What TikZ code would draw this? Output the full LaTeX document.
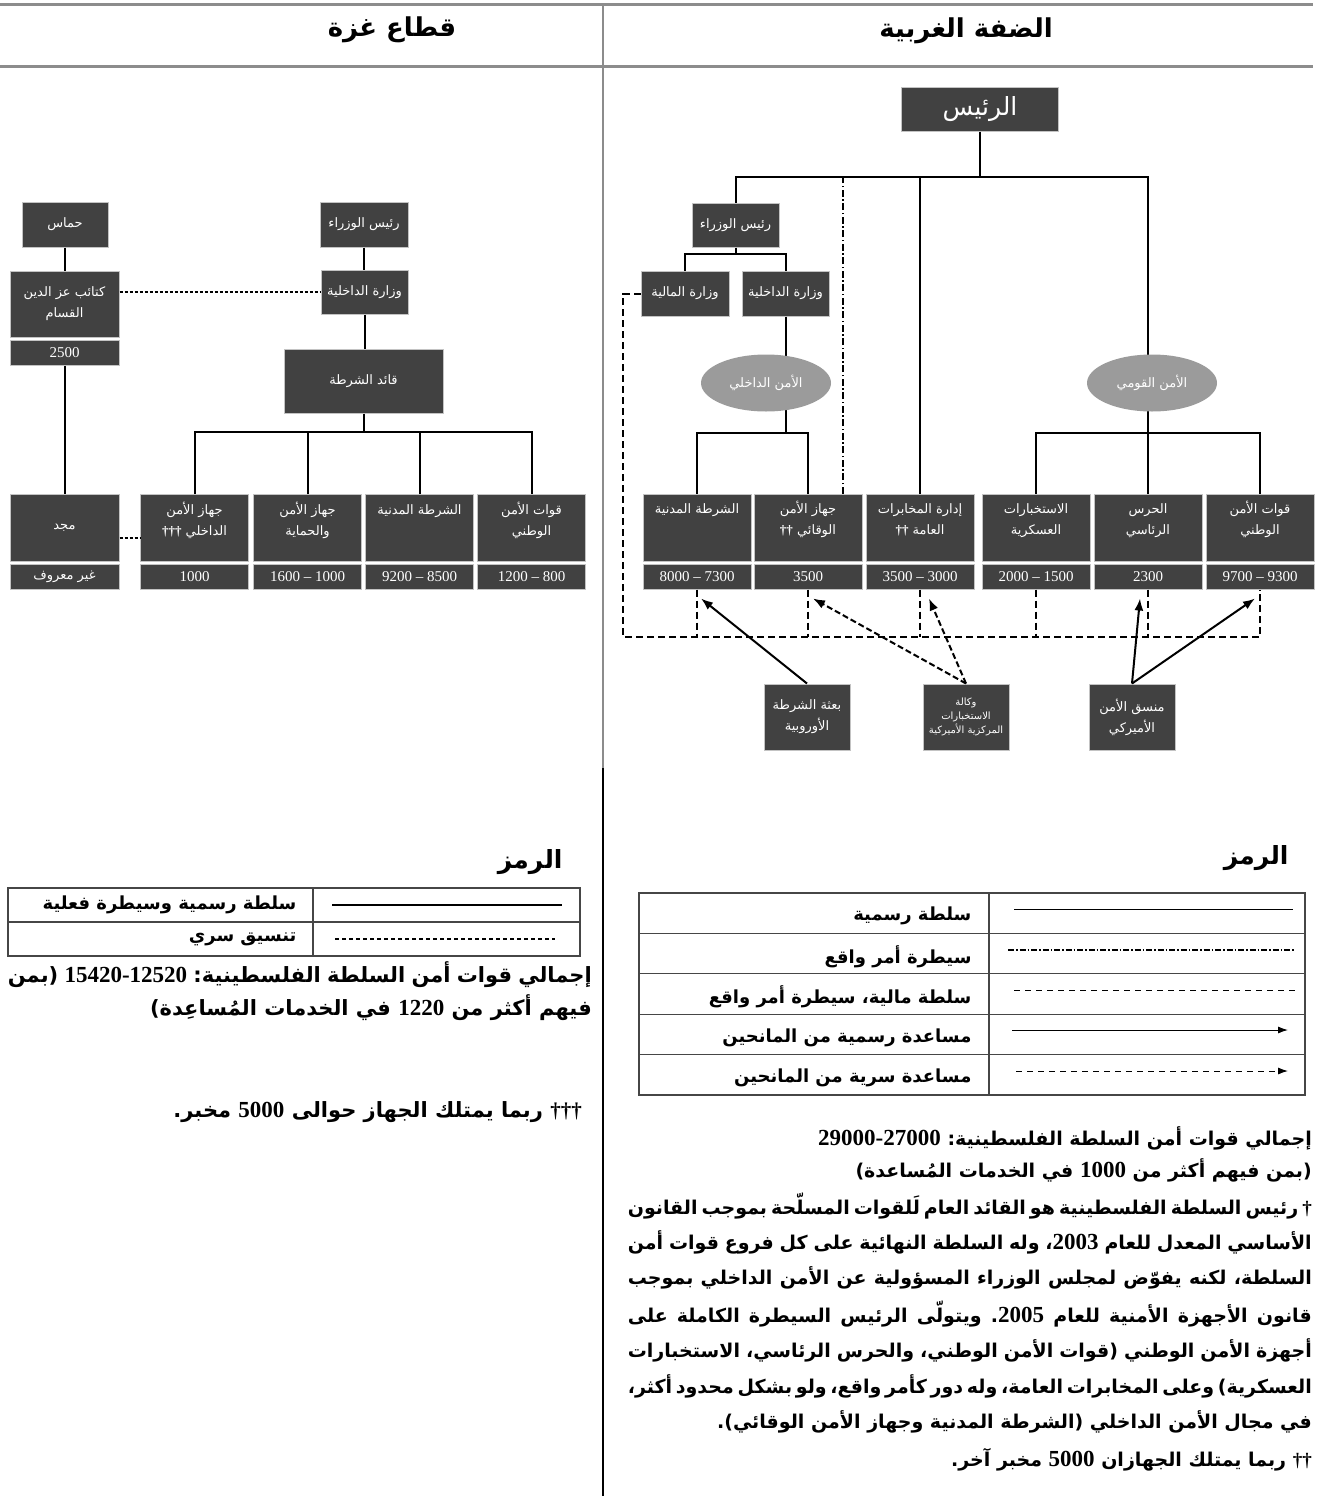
\documentclass[tikz,border=0pt]{standalone}
\usepackage{fontspec}
\setmainfont{Liberation Serif}
\newfontfamily\arabicfont[Script=Arabic]{DejaVu Sans}
\newfontfamily\latinfont{Liberation Serif}
\TeXXeTstate=1
\frenchspacing
\usetikzlibrary{positioning, shapes.geometric, arrows.meta}

\definecolor{boxgray}{RGB}{65,65,65}
\definecolor{edgegray}{RGB}{195,195,195}
\definecolor{ovalgray}{RGB}{155,155,155}
\definecolor{rulegray}{RGB}{140,140,140}
\definecolor{framegray}{RGB}{70,70,70}

\newcommand{\boxfont}{\arabicfont\fontsize{13}{21}\selectfont}
\newcommand{\smallboxfont}{\arabicfont\fontsize{10}{14}\selectfont}
\newcommand{\stripfont}{\latinfont\fontsize{15}{18}\selectfont}
\newcommand{\presfont}{\arabicfont\fontsize{25}{28}\selectfont}
\newcommand{\headfont}{\arabicfont\bfseries\fontsize{26}{30}\selectfont}
\newcommand{\keyfont}{\arabicfont\bfseries\fontsize{25}{28}\selectfont}
\newcommand{\legfont}{\arabicfont\bfseries\fontsize{18}{21}\selectfont}
\newcommand{\parafont}{\arabicfont\bfseries\fontsize{19}{22}\selectfont}
\newcommand{\gazaparafont}{\arabicfont\bfseries\fontsize{21}{24}\selectfont}

\newcommand{\arb}[1]{{\arabicfont #1}}
\newcommand{\nums}[1]{\beginL{\latinfont\bfseries\fontsize{23}{24}\selectfont #1}\endL}
\newcommand{\dg}[1]{{\latinfont\bfseries #1}}
\newcommand{\jline}[2]{\hbox to #1{\spaceskip=.32em plus 2em minus .16em\relax #2}}
\newcommand{\unittext}[1]{\parbox[c][58pt][t]{104pt}{\centering\rule{0pt}{15pt}#1}}

\tikzset{
  unit/.style={rectangle, draw=edgegray, fill=boxgray, text=white, line width=1pt,
    minimum width=108pt, minimum height=67pt, inner sep=0pt, font=\boxfont},
  strip/.style={rectangle, draw=edgegray, fill=boxgray, text=white, line width=1pt,
    minimum width=108pt, minimum height=25pt, inner sep=0pt, font=\stripfont},
  office/.style={rectangle, draw=edgegray, fill=boxgray, text=white, line width=1pt,
    minimum width=87pt, minimum height=44pt, inner sep=2pt, align=center, font=\boxfont},
  oval/.style={ellipse, fill=ovalgray, text=white, minimum width=130pt,
    minimum height=57pt, inner sep=0pt, font=\boxfont},
  authority/.style={line width=2pt},
  defacto/.style={line width=1.6pt, dash pattern=on 7pt off 2.5pt on 1.5pt off 2.5pt},
  finance/.style={line width=2pt, dash pattern=on 7pt off 4pt},
  covert/.style={line width=2.5pt, dash pattern=on 3pt off 2pt},
  aid/.style={line width=2pt, -{Latex[length=12pt,width=9pt]}},
  secretaid/.style={aid, dash pattern=on 6pt off 3pt},
  keyline/.style={line width=1pt},
  keytext/.style={font=\legfont, anchor=east},
  paraline/.style={font=\parafont, inner sep=0pt, anchor=east},
}

\begin{document}
\begin{tikzpicture}[x=1pt, y=-1pt]
  \useasboundingbox (0,0) rectangle (1321,1496);

  % header rules and titles
  \draw[rulegray, line width=3pt] (0,5) -- (1313,5);
  \draw[rulegray, line width=3pt] (0,67) -- (1313,67);
  \draw[rulegray, line width=1.5pt] (603,5) -- (603,768);
  \draw[line width=1.2pt] (603,768) -- (603,1496);
  \node[font=\headfont] (gazatitle) at (392,30) {\arb{\beginR قطاع غزة\endR}};
  \node[font=\headfont] (wbtitle) at (966,31) {\arb{\beginR الضفة الغربية\endR}};

  % West Bank offices
  \node[office, minimum width=157pt, font=\presfont] (pres) at (980,109) {\arb{\beginR الرئيس\endR}};
  \node[office] (pm) at (735.5,225) {\arb{\beginR رئيس الوزراء\endR}};
  \node[office, minimum width=88pt, minimum height=45pt] (mof) at (685,293.5) {\arb{\beginR وزارة المالية\endR}};
  \node[office, minimum height=45pt] (moi) at (785.5,293.5) {\arb{\beginR وزارة الداخلية\endR}};

  % West Bank services
  \node[unit] (civ) at (697,527.5) {\unittext{\arb{\beginR الشرطة المدنية\endR}}};
  \node[strip, below=2pt of civ] (civnum) {8000 – 7300};
  \node[unit] (pss) at (808,527.5) {\unittext{\arb{\beginR جهاز الأمن\endR}\\\arb{\beginR الوقائي \dg{††}\endR}}};
  \node[strip, below=2pt of pss] (pssnum) {3500};
  \node[unit] (gis) at (920,527.5) {\unittext{\arb{\beginR إدارة المخابرات\endR}\\\arb{\beginR العامة \dg{††}\endR}}};
  \node[strip, below=2pt of gis] (gisnum) {3500 – 3000};
  \node[unit] (mi) at (1036,527.5) {\unittext{\arb{\beginR الاستخبارات\endR}\\\arb{\beginR العسكرية\endR}}};
  \node[strip, below=2pt of mi] (minum) {2000 – 1500};
  \node[unit] (pg) at (1148,527.5) {\unittext{\arb{\beginR الحرس\endR}\\\arb{\beginR الرئاسي\endR}}};
  \node[strip, below=2pt of pg] (pgnum) {2300};
  \node[unit] (nsf) at (1260,527.5) {\unittext{\arb{\beginR قوات الأمن\endR}\\\arb{\beginR الوطني\endR}}};
  \node[strip, below=2pt of nsf] (nsfnum) {9700 – 9300};

  % West Bank donors
  \node[office, minimum width=86pt, minimum height=66pt] (eupol) at (807,717) {\arb{\beginR بعثة الشرطة\endR}\\\arb{\beginR الأوروبية\endR}};
  \node[office, minimum width=86pt, minimum height=66pt, font=\smallboxfont] (cia) at (966,717) {\arb{\beginR وكالة\endR}\\\arb{\beginR الاستخبارات\endR}\\\arb{\beginR المركزية الأميركية\endR}};
  \node[office, minimum width=86pt, minimum height=66pt] (ussc) at (1132,717) {\arb{\beginR منسق الأمن\endR}\\\arb{\beginR الأميركي\endR}};

  % West Bank lines
  \coordinate (wbbus) at (980,177);
  \draw[authority] (pres.south) -- (wbbus);
  \draw[authority] (pm.north) |- (wbbus) -| (pg.north);
  \draw[authority] (gis.north) -- (gis.north |- wbbus);
  \draw[defacto] ([xshift=35pt]pss.north) -- ([xshift=35pt]pss.north |- wbbus);
  \coordinate (pmbus) at (735.5,254);
  \draw[authority] (pm.south) -- (pmbus);
  \draw[authority] (mof.north) |- (pmbus) -| (moi.north);
  \coordinate (intbus) at (785.5,433);
  \draw[authority] (moi.south) -- (intbus);
  \draw[authority] (civ.north) |- (intbus) -| (pss.north);
  \coordinate (natbus) at (1148,433);
  \draw[authority] (mi.north) |- (natbus) -| (nsf.north);

  \coordinate (fincorner) at (623,637);
  \draw[finance] (mof.west) -| (fincorner) -- (fincorner -| nsfnum.south) -- (nsfnum.south);
  \foreach \n in {civnum,pssnum,gisnum,minum,pgnum}
    \draw[finance] (\n.south) -- (\n.south |- fincorner);

  \node[oval] (intsec) at (766,383) {\arb{\beginR الأمن الداخلي\endR}};
  \node[oval] (natsec) at (1152,383) {\arb{\beginR الأمن القومي\endR}};

  \draw[aid] (eupol.north) -- ([xshift=4pt,yshift=-9pt]civnum.south);
  \draw[secretaid] (cia.north) -- ([xshift=5pt,yshift=-9pt]pssnum.south);
  \draw[secretaid] (cia.north) -- ([xshift=9pt,yshift=-9pt]gisnum.south);
  \draw[aid] (ussc.north) -- ([xshift=-8pt,yshift=-9pt]pgnum.south);
  \draw[aid] (ussc.north) -- ([xshift=-5pt,yshift=-9pt]nsfnum.south);

  % Gaza offices
  \node[office, minimum width=86pt, minimum height=45pt] (hamas) at (65,224.5) {\arb{\beginR حماس\endR}};
  \node[office, minimum width=109pt, minimum height=66pt] (qassam) at (64.5,304) {\arb{\beginR كتائب عز الدين\endR}\\\arb{\beginR القسام\endR}};
  \node[strip, minimum width=109pt, below=2pt of qassam] (qassamnum) {2500};
  \node[office, minimum width=88pt, minimum height=45pt] (gpm) at (364,224.5) {\arb{\beginR رئيس الوزراء\endR}};
  \node[office] (gmoi) at (364.5,292) {\arb{\beginR وزارة الداخلية\endR}};
  \node[office, minimum width=159pt, minimum height=64pt] (chief) at (363.5,381) {\arb{\beginR قائد الشرطة\endR}};

  % Gaza services
  \node[unit, minimum width=109pt] (majd) at (64.5,528) {\arb{\beginR مجد\endR}};
  \node[strip, minimum width=109pt, below=2pt of majd, font=\boxfont] (majdnum) {\arb{\beginR غير معروف\endR}};
  \node[unit] (isa) at (194.5,528) {\unittext{\arb{\beginR جهاز الأمن\endR}\\\arb{\beginR الداخلي \dg{†††}\endR}}};
  \node[strip, below=2pt of isa] (isanum) {1000};
  \node[unit] (pps) at (307.5,528) {\unittext{\arb{\beginR جهاز الأمن\endR}\\\arb{\beginR والحماية\endR}}};
  \node[strip, below=2pt of pps] (ppsnum) {1600 – 1000};
  \node[unit] (gcp) at (419.5,528) {\unittext{\arb{\beginR الشرطة المدنية\endR}}};
  \node[strip, below=2pt of gcp] (gcpnum) {9200 – 8500};
  \node[unit] (gnsf) at (531.5,528) {\unittext{\arb{\beginR قوات الأمن\endR}\\\arb{\beginR الوطني\endR}}};
  \node[strip, below=2pt of gnsf] (gnsfnum) {1200 – 800};

  % Gaza lines
  \draw[authority] (hamas.south) -- (hamas.south |- qassam.north);
  \draw[authority] (qassamnum.south) -- (qassamnum.south |- majd.north);
  \draw[authority] (gpm.south) -- (gpm.south |- gmoi.north);
  \draw[authority] (gmoi.south) -- (gmoi.south |- chief.north);
  \coordinate (gbus) at (363.5,432);
  \draw[authority] (chief.south) -- (gbus);
  \draw[authority] (isa.north) |- (gbus) -| (gnsf.north);
  \draw[authority] (pps.north) -- (pps.north |- gbus);
  \draw[authority] (gcp.north) -- (gcp.north |- gbus);
  \draw[covert] (qassam.east |- gmoi.west) -- (gmoi.west);
  \draw[covert] ([yshift=-10pt]majd.east) -- ([yshift=-10pt]isa.west);

  % Gaza key
  \node[font=\keyfont, anchor=east] (gkey) at (566,862) {\arb{\beginR الرمز\endR}};
  \draw[framegray, line width=1.2pt] (8,888) rectangle (580,956);
  \draw[framegray, line width=1.2pt] (313,888) -- (313,956) (8,922) -- (580,922);
  \node[keytext] (gkey1) at (300,905) {\arb{\beginR سلطة رسمية وسيطرة فعلية\endR}};
  \node[keytext] (gkey2) at (300,939) {\arb{\beginR تنسيق سري\endR}};
  \draw[authority] (332,905) -- (562,905);
  \draw[line width=1.2pt, dash pattern=on 4pt off 3pt] (335,939) -- (555,939);

  \node[paraline, font=\gazaparafont] (gline1) at (592,975) {\jline{584pt}{\beginR إجمالي قوات أمن السلطة الفلسطينية: \nums{15420-12520} (بمن\endR}};
  \node[paraline, font=\gazaparafont] (gline2) at (592,1008) {\arb{\beginR فيهم أكثر من \nums{1220} في الخدمات المُساعِدة)\endR}};
  \node[paraline, font=\gazaparafont] (gline3) at (582,1112) {\arb{\beginR \dg{†††} ربما يمتلك الجهاز حوالى \nums{5000} مخبر.\endR}};

  % West Bank key
  \node[font=\keyfont, anchor=east] (wkey) at (1292,858) {\arb{\beginR الرمز\endR}};
  \draw[framegray, line width=1.2pt] (639,893) rectangle (1305,1095);
  \draw[framegray, line width=1.2pt] (989,893) -- (989,1095);
  \foreach \y in {933.4,973.8,1014.2,1054.6}
    \draw[framegray, line width=1.2pt] (639,\y) -- (1305,\y);
  \node[keytext] (wkey1) at (975,916) {\arb{\beginR سلطة رسمية\endR}};
  \node[keytext] (wkey2) at (975,957) {\arb{\beginR سيطرة أمر واقع\endR}};
  \node[keytext] (wkey3) at (975,997) {\arb{\beginR سلطة مالية، سيطرة أمر واقع\endR}};
  \node[keytext] (wkey4) at (975,1038) {\arb{\beginR مساعدة رسمية من المانحين\endR}};
  \node[keytext] (wkey5) at (975,1078) {\arb{\beginR مساعدة سرية من المانحين\endR}};
  \draw[keyline] (1014,909) -- (1293,909);
  \draw[keyline, line width=1.3pt, dash pattern=on 6pt off 2pt on 1.5pt off 2pt] (1008,950) -- (1295,950);
  \draw[keyline, dash pattern=on 6pt off 5pt] (1014,990) -- (1295,990);
  \draw[keyline, -{Latex[length=10pt,width=7pt]}] (1012,1030) -- (1288,1030);
  \draw[keyline, dash pattern=on 6pt off 5pt, -{Latex[length=10pt,width=7pt]}] (1016,1071) -- (1288,1071);

  \node[paraline] (wline1) at (1312,1138) {\arb{\beginR إجمالي قوات أمن السلطة الفلسطينية: \nums{29000-27000}\endR}};
  \node[paraline] (wline2) at (1312,1170) {\arb{\beginR (بمن فيهم أكثر من \nums{1000} في الخدمات المُساعدة)\endR}};
  \node[paraline] (wline3) at (1312,1206) {\jline{684pt}{\beginR \dg{†} رئيس السلطة الفلسطينية هو القائد العام لَلقوات المسلّحة بموجب القانون\endR}};
  \node[paraline] (wline4) at (1312,1242) {\jline{684pt}{\beginR الأساسي المعدل للعام \nums{2003}، وله السلطة النهائية على كل فروع قوات أمن\endR}};
  \node[paraline] (wline5) at (1312,1278) {\jline{684pt}{\beginR السلطة، لكنه يفوّض لمجلس الوزراء المسؤولية عن الأمن الداخلي بموجب\endR}};
  \node[paraline] (wline6) at (1312,1314) {\jline{684pt}{\beginR قانون الأجهزة الأمنية للعام \nums{2005}. ويتولّى الرئيس السيطرة الكاملة على\endR}};
  \node[paraline] (wline7) at (1312,1350) {\jline{684pt}{\beginR أجهزة الأمن الوطني (قوات الأمن الوطني، والحرس الرئاسي، الاستخبارات\endR}};
  \node[paraline] (wline8) at (1312,1386) {\jline{684pt}{\beginR العسكرية) وعلى المخابرات العامة، وله دور كأمر واقع، ولو بشكل محدود أكثر،\endR}};
  \node[paraline] (wline9) at (1312,1422) {\arb{\beginR في مجال الأمن الداخلي (الشرطة المدنية وجهاز الأمن الوقائي).\endR}};
  \node[paraline] (wline10) at (1312,1460) {\arb{\beginR \dg{††} ربما يمتلك الجهازان \nums{5000} مخبر آخر.\endR}};
\end{tikzpicture}
\end{document}
